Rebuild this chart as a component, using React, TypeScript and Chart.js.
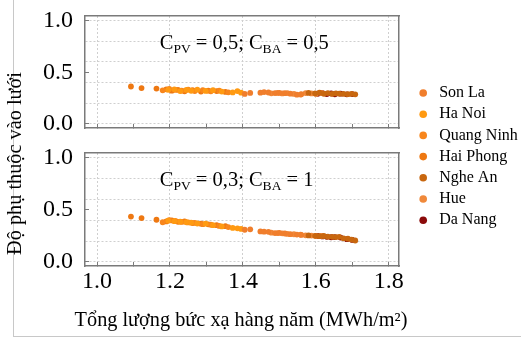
import React, { useEffect, useRef } from 'react';
import { Chart, registerables } from 'chart.js';

Chart.register(...registerables);

const FONT = "'Liberation Serif', 'Times New Roman', serif";
const FRAME = '#7a7a7a';
const GRID = '#cfcfcf';

const cities = ['Son La', 'Ha Noi', 'Quang Ninh', 'Hai Phong', 'Nghe An', 'Hue', 'Da Nang'];
const cityColors = ['#F07E2C', '#FF9A12', '#F8861C', '#EE7812', '#C8670F', '#F0893A', '#8B0A0A'];

// Annual radiation (MWh/m2) per configuration, per city
const sonLaRad = [1.405, 1.42, 1.448, 1.458, 1.47, 1.488, 1.5, 1.515, 1.53, 1.548, 1.56];
const haNoiRad = [1.195, 1.212, 1.228, 1.245, 1.258, 1.275, 1.298, 1.318, 1.342, 1.372, 1.385, 1.395];
const quangNinhRad = [1.18, 1.198, 1.215, 1.232, 1.25, 1.268, 1.29, 1.312, 1.335, 1.36];
const haiPhongRad = [1.093, 1.122, 1.163, 1.19, 1.205, 1.222, 1.24, 1.262, 1.285, 1.305, 1.328, 1.352];
const ngheAnRad = [1.58, 1.598, 1.61, 1.622, 1.633, 1.645, 1.655, 1.664, 1.676, 1.688, 1.698, 1.708];
const hueRad = [1.478, 1.495, 1.508, 1.522, 1.54, 1.558, 1.572, 1.588, 1.6, 1.615];
const daNangRad = [1.605, 1.618, 1.63, 1.642, 1.652, 1.668, 1.685, 1.7];

// Grid dependence, scenario C_PV = 0,5; C_BA = 0,5 (top panel)
const sonLaTop = [0.29, 0.3, 0.302, 0.308, 0.304, 0.298, 0.3, 0.297, 0.293, 0.283, 0.287];
const haNoiTop = [0.33, 0.335, 0.318, 0.329, 0.321, 0.331, 0.319, 0.326, 0.313, 0.305, 0.318, 0.302];
const quangNinhTop = [0.325, 0.338, 0.329, 0.323, 0.332, 0.318, 0.327, 0.315, 0.322, 0.306];
const haiPhongTop = [0.362, 0.347, 0.342, 0.335, 0.322, 0.33, 0.316, 0.326, 0.313, 0.322, 0.318, 0.309];
const ngheAnTop = [0.3, 0.296, 0.302, 0.292, 0.298, 0.29, 0.296, 0.293, 0.29, 0.288, 0.291, 0.286];
const hueTop = [0.296, 0.3, 0.295, 0.298, 0.29, 0.284, 0.298, 0.295, 0.29, 0.299];
const daNangTop = [0.292, 0.298, 0.289, 0.295, 0.287, 0.293, 0.286, 0.289];

// Grid dependence, scenario C_PV = 0,3; C_BA = 1 (bottom panel)
const sonLaBottom = [0.308, 0.312, 0.292, 0.29, 0.288, 0.276, 0.278, 0.272, 0.266, 0.262, 0.258];
const haNoiBottom = [0.395, 0.39, 0.386, 0.38, 0.376, 0.368, 0.366, 0.352, 0.34, 0.326, 0.322, 0.316];
const quangNinhBottom = [0.38, 0.4, 0.392, 0.383, 0.378, 0.374, 0.362, 0.356, 0.345, 0.334];
const haiPhongBottom = [0.435, 0.42, 0.404, 0.388, 0.398, 0.384, 0.388, 0.372, 0.366, 0.36, 0.352, 0.342];
const ngheAnBottom = [0.254, 0.25, 0.246, 0.248, 0.242, 0.24, 0.238, 0.24, 0.226, 0.222, 0.214, 0.205];
const hueBottom = [0.28, 0.276, 0.274, 0.268, 0.265, 0.262, 0.255, 0.252, 0.248, 0.25];
const daNangBottom = [0.248, 0.244, 0.24, 0.236, 0.238, 0.233, 0.218, 0.21];

const radiationByCity = [sonLaRad, haNoiRad, quangNinhRad, haiPhongRad, ngheAnRad, hueRad, daNangRad];
const topByCity = [sonLaTop, haNoiTop, quangNinhTop, haiPhongTop, ngheAnTop, hueTop, daNangTop];
const bottomByCity = [sonLaBottom, haNoiBottom, quangNinhBottom, haiPhongBottom, ngheAnBottom, hueBottom, daNangBottom];

const pvShares = ['0,5', '0,3'];
const baShares = ['0,5', '1'];

const xTitle = 'Tổng lượng bức xạ hàng năm (MWh/m²)';
const yTitle = 'Độ phụ thuộc vào lưới';

const X_MIN = 0.967;
const X_MAX = 1.828;
const Y_MIN = -0.04;
const Y_MAX = 1.045;

function isMult(v: number, step: number) {
  const r = v / step;
  return Math.abs(r - Math.round(r)) < 1e-6;
}

const scenarioLabel = {
  id: 'scenarioLabel',
  afterDatasetsDraw(chart: any, _args: any, opts: any) {
    const { ctx, scales } = chart;
    const x0 = scales.x.getPixelForValue(opts.x);
    const y0 = scales.y.getPixelForValue(opts.y);
    const parts: [string, boolean][] = [
      ['C', true],
      ['PV', false],
      [' = ' + opts.pv + '; C', true],
      ['BA', false],
      [' = ' + opts.ba, true],
    ];
    ctx.save();
    ctx.fillStyle = '#000';
    ctx.textAlign = 'left';
    ctx.textBaseline = 'alphabetic';
    let x = x0;
    for (const [t, main] of parts) {
      ctx.font = main ? `20.5px ${FONT}` : `13.5px ${FONT}`;
      ctx.fillText(t, x, main ? y0 : y0 + 4);
      x += ctx.measureText(t).width;
    }
    ctx.restore();
  },
};

function buildConfig(panel: number): any {
  const isBottom = panel === 1;
  const values = isBottom ? bottomByCity : topByCity;
  const sizes = isBottom
    ? { top: 164, bottom: 42.82, left: 56.82, right: 11, pad: 5 }
    : { top: 16, bottom: 12, left: 85, right: 122, pad: 0 };

  const datasets = cities.map((name, i) => ({
    label: name,
    data: radiationByCity[i].map((x, j) => ({ x, y: values[i][j] })),
    backgroundColor: cityColors[i],
    borderColor: cityColors[i],
    borderWidth: 0,
    pointRadius: 2.9,
    pointHoverRadius: 2.9,
    pointStyle: 'circle',
  }));

  const frameBorder = { display: true, color: FRAME, width: 1.5 };
  const noPadX = (s: any) => { s.height = sizes.bottom; s.paddingLeft = 0; s.paddingRight = 0; };
  const noPadY = (s: any) => { s.width = sizes.left; s.paddingTop = 0; s.paddingBottom = 0; };

  return {
    type: 'scatter',
    data: { datasets },
    plugins: [scenarioLabel],
    options: {
      animation: false,
      responsive: false,
      devicePixelRatio: 1,
      events: [],
      layout: { padding: { top: sizes.pad, left: 0, right: 0, bottom: 0 } },
      scales: {
        x: {
          type: 'linear',
          position: 'bottom',
          min: X_MIN,
          max: X_MAX,
          afterFit: noPadX,
          ticks: {
            display: isBottom,
            stepSize: 0.1,
            includeBounds: false,
            autoSkip: false,
            maxRotation: 0,
            minRotation: 0,
            padding: 5,
            color: '#000',
            font: { family: FONT, size: 24 },
            callback: (v: number) => (isMult(v, 0.2) ? v.toFixed(1) : ''),
          },
          grid: {
            display: true,
            color: (c: any) => (c.tick ? (isMult(c.tick.value, 0.2) ? GRID : 'rgba(0,0,0,0)') : GRID),
            lineWidth: 1,
            drawTicks: true,
            tickLength: -4,
            tickColor: FRAME,
            tickWidth: 1,
          },
          border: { ...frameBorder, dash: [2, 2] },
        },
        x2: {
          type: 'linear',
          position: 'top',
          min: X_MIN,
          max: X_MAX,
          afterFit: (s: any) => { s.height = sizes.top; s.paddingLeft = 0; s.paddingRight = 0; },
          ticks: { display: false },
          grid: { display: false, drawTicks: false },
          border: frameBorder,
        },
        y: {
          type: 'linear',
          position: 'left',
          min: Y_MIN,
          max: Y_MAX,
          afterFit: noPadY,
          ticks: {
            stepSize: 0.1,
            includeBounds: false,
            autoSkip: false,
            padding: 16,
            color: '#000',
            font: { family: FONT, size: 24 },
            callback: (v: number) => (isMult(v, 0.5) ? v.toFixed(1) : ''),
          },
          grid: {
            display: true,
            color: (c: any) => (c.tick ? (isMult(c.tick.value, 0.2) ? GRID : 'rgba(0,0,0,0)') : GRID),
            lineWidth: 1,
            drawTicks: true,
            tickLength: -4,
            tickColor: (c: any) => (c.tick && isMult(c.tick.value, 0.5) ? FRAME : 'rgba(0,0,0,0)'),
            tickWidth: 1,
          },
          border: { ...frameBorder, dash: [2, 2] },
        },
        y2: {
          type: 'linear',
          position: 'right',
          min: Y_MIN,
          max: Y_MAX,
          afterFit: (s: any) => { s.width = sizes.right; s.paddingTop = 0; s.paddingBottom = 0; },
          ticks: { display: false },
          grid: { display: false, drawTicks: false },
          border: frameBorder,
        },
      },
      plugins: {
        tooltip: { enabled: false },
        scenarioLabel: { x: 1.172, y: 0.73, pv: pvShares[panel], ba: baShares[panel] },
        title: {
          display: isBottom,
          position: 'left',
          text: yTitle,
          color: '#000',
          font: { family: FONT, size: 20.3, weight: 'normal' },
          padding: { top: 42.82, bottom: 0 },
        },
        subtitle: {
          display: isBottom,
          position: 'bottom',
          text: xTitle,
          color: '#000',
          font: { family: FONT, size: 20.3, weight: 'normal' },
          padding: { top: 0, bottom: 4.82 },
        },
        legend: {
          display: isBottom,
          position: 'right',
          align: 'start',
          maxWidth: 111,
          title: { display: true, text: ' ', font: { family: FONT, size: 10 }, padding: { top: 78.8, bottom: 0 } },
          labels: {
            usePointStyle: true,
            pointStyle: 'circle',
            boxWidth: 16,
            boxHeight: 5.4,
            padding: 5.2,
            color: '#000',
            font: { family: FONT, size: 16 },
          },
        },
      },
    },
  };
}

export default function App() {
  const topRef = useRef<HTMLCanvasElement>(null);
  const botRef = useRef<HTMLCanvasElement>(null);

  useEffect(() => {
    Chart.defaults.font.family = FONT;
    const top = new Chart(topRef.current as HTMLCanvasElement, buildConfig(0));
    const bot = new Chart(botRef.current as HTMLCanvasElement, buildConfig(1));
    return () => {
      top.destroy();
      bot.destroy();
    };
  }, []);

  return (
    <div style={{ position: 'fixed', left: 0, top: 0, width: 521, height: 338, overflow: 'hidden', background: '#fff' }}>
      <div
        style={{
          position: 'absolute',
          left: 13,
          top: -2,
          width: 520,
          height: 339,
          boxSizing: 'border-box',
          borderLeft: '1px solid #c8c8c8',
          borderBottom: '1px solid #c8c8c8',
        }}
      />
      <canvas ref={topRef} width={521} height={140} style={{ position: 'absolute', left: 0, top: 0, width: 521, height: 140 }} />
      <canvas ref={botRef} width={560} height={354} style={{ position: 'absolute', left: -39, top: -16, width: 560, height: 354 }} />
    </div>
  );
}
